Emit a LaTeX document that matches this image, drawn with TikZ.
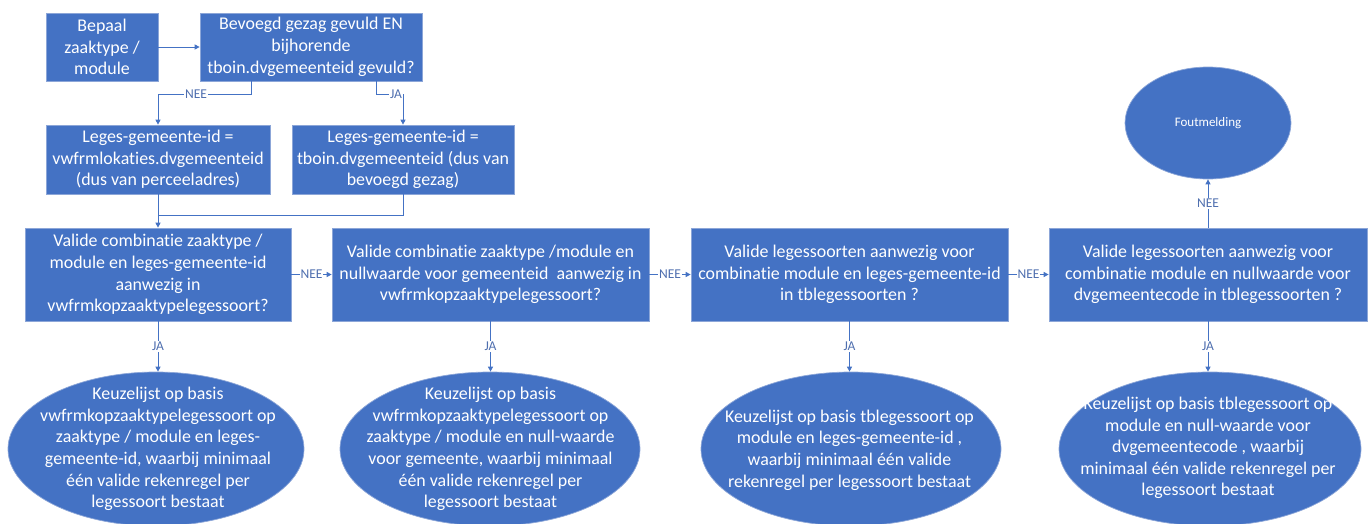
\documentclass[tikz,border=0pt]{standalone}
\usepackage{fontspec}
\setmainfont{Carlito}[Ligatures={NoCommon,NoContextual}]
\usetikzlibrary{arrows.meta,shapes.geometric}
\definecolor{obl}{HTML}{4472C4}
\definecolor{obd}{HTML}{8CA6D8}
\definecolor{lbl}{HTML}{4F6FAF}
\begin{document}
\begin{tikzpicture}[x=1pt,y=-1pt,
  box/.style={rectangle,fill=obl,draw=obd,line width=0.7pt,text=white,align=center,inner sep=0pt,font=\fontsize{17.9}{21.7}\selectfont},
  oval/.style={ellipse,fill=obl,draw=obd,line width=0.7pt,inner sep=0pt},
  otext/.style={text=white,align=center,inner sep=0pt,font=\fontsize{17.9}{21.6}\selectfont},
  conn/.style={draw=obl,line width=0.9pt,-{Triangle[width=5pt,length=5pt]}},
  plainline/.style={draw=obl,line width=0.9pt},
  lab/.style={fill=white,text=lbl,inner sep=1pt,font=\fontsize{13.5}{14}\selectfont}]
\useasboundingbox[fill=white] (0,0) rectangle (1370,523);

\node[box,minimum width=112,minimum height=68] (bepaal) at (102,47) {Bepaal\\zaaktype /\\module};
\node[box,minimum width=222,minimum height=68] (bevoegd) at (311,47) {Bevoegd gezag gevuld EN\\bijhorende\\tboin.dvgemeenteid gevuld?};
\node[box,minimum width=224,minimum height=69] (leges1) at (158,159.5) {Leges-gemeente-id =\\vwfrmlokaties.dvgemeenteid\\(dus van perceeladres)};
\node[box,minimum width=222,minimum height=69] (leges2) at (403,159.5) {Leges-gemeente-id =\\tboin.dvgemeenteid (dus van\\bevoegd gezag)};
\node[box,minimum width=266,minimum height=93] (val1) at (158,274.5) {Valide combinatie zaaktype /\\module en leges-gemeente-id\\aanwezig in\\vwfrmkopzaaktypelegessoort?};
\node[box,minimum width=317,minimum height=93] (val2) at (490.5,274.5) {Valide combinatie zaaktype /module en\\nullwaarde voor gemeenteid\ \ aanwezig in\\vwfrmkopzaaktypelegessoort?};
\node[box,minimum width=317,minimum height=93] (val3) at (849.5,274.5) {Valide legessoorten aanwezig voor\\combinatie module en leges-gemeente-id\\in tblegessoorten ?};
\node[box,minimum width=318,minimum height=93] (val4) at (1208,274.5) {Valide legessoorten aanwezig voor\\combinatie module en nullwaarde voor\\dvgemeentecode in tblegessoorten ?};

\node[oval,minimum width=166,minimum height=112] (fout) at (1208,123) {};
\node[otext,font=\fontsize{13}{15}\selectfont] (tfout) at (fout) {Foutmelding};

\node[oval,minimum width=296,minimum height=154] (e1) at (156,449) {};
\node[oval,minimum width=300,minimum height=154] (e2) at (490,449) {};
\node[oval,minimum width=300,minimum height=154] (e3) at (851,449) {};
\node[oval,minimum width=302,minimum height=154] (e4) at (1210,449) {};
\node[otext] (t1) at (158,449) {Keuzelijst op basis\\vwfrmkopzaaktypelegessoort op\\zaaktype / module en leges-\\gemeente-id, waarbij minimaal\\één valide rekenregel per\\legessoort bestaat};
\node[otext] (t2) at (490.5,449) {Keuzelijst op basis\\vwfrmkopzaaktypelegessoort op\\zaaktype / module en null-waarde\\voor gemeente, waarbij minimaal\\één valide rekenregel per\\legessoort bestaat};
\node[otext] (t3) at (849.5,450) {Keuzelijst op basis tblegessoort op\\module en leges-gemeente-id ,\\waarbij minimaal één valide\\rekenregel per legessoort bestaat};
\node[otext] (t4) at (1208,448) {Keuzelijst op basis tblegessoort op\\module en null-waarde voor\\dvgemeentecode , waarbij\\minimaal één valide rekenregel per\\legessoort bestaat};

\draw[conn] (bepaal) -- (bevoegd);
\coordinate (nb) at ([xshift=-60pt]bevoegd.south);
\coordinate (jb) at ([xshift=65pt]bevoegd.south);
\draw[conn] (nb) -- (nb |- 0,94) -| (leges1.north);
\draw[conn] (jb) -- (jb |- 0,94) -| (leges2.north);
\node[lab] (l0) at (196,94) {NEE};
\node[lab] (l1) at (396,94) {JA};
\draw[conn] (leges1) -- (val1);
\draw[plainline] (leges2.south) |- (leges1.south |- 0,215);

\draw[conn] (val1) -- (val2) node[lab,midway] (l2) {NEE};
\draw[conn] (val2) -- (val3) node[lab,midway] (l3) {NEE};
\draw[conn] (val3) -- (val4) node[lab,midway] (l4) {NEE};
\draw[conn] (val4) -- (fout) node[lab,midway] (l5) {NEE};
\draw[conn] (val1) -- (val1.south |- e1.north) node[lab,midway] (l6) {JA};
\draw[conn] (val2) -- (val2.south |- e2.north) node[lab,midway] (l7) {JA};
\draw[conn] (val3) -- (val3.south |- e3.north) node[lab,midway] (l8) {JA};
\draw[conn] (val4) -- (val4.south |- e4.north) node[lab,midway] (l9) {JA};
\end{tikzpicture}
\end{document}
